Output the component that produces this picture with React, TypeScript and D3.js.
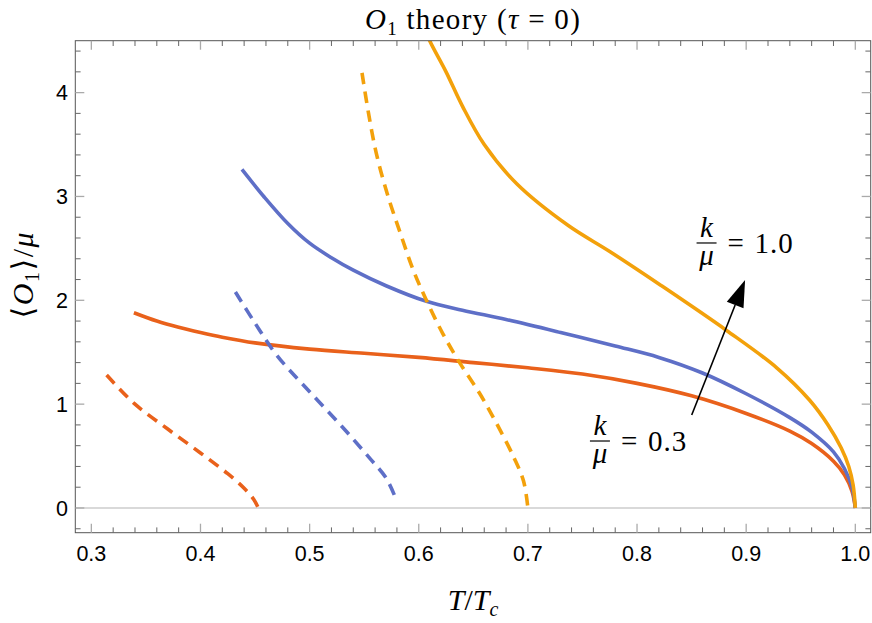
import React from "react";
import * as d3 from "d3";

const W = 872;
const H = 623;

// Data: [T/Tc, <O1>/mu]
const redSolid: [number, number][] = [
  [0.339, 1.88], [0.36, 1.80], [0.38, 1.74], [0.40, 1.69], [0.42, 1.645], [0.45, 1.59],
  [0.50, 1.53], [0.55, 1.49], [0.60, 1.45], [0.65, 1.40], [0.70, 1.35], [0.75, 1.29],
  [0.80, 1.20], [0.85, 1.08], [0.90, 0.91], [0.94, 0.74], [0.96, 0.62], [0.98, 0.45],
  [0.99, 0.32], [0.997, 0.16], [1.0, 0.0],
];

const blueSolid: [number, number][] = [
  [0.438, 3.26], [0.458, 3.0], [0.48, 2.74], [0.50, 2.55], [0.52, 2.41], [0.54, 2.29],
  [0.57, 2.14], [0.607, 1.99], [0.64, 1.905], [0.68, 1.815], [0.73, 1.69], [0.78, 1.56],
  [0.82, 1.45], [0.86, 1.30], [0.90, 1.10], [0.94, 0.87], [0.96, 0.73], [0.98, 0.54],
  [0.99, 0.38], [0.997, 0.20], [1.0, 0.0],
];

const orangeSolid: [number, number][] = [
  [0.602, 4.7], [0.61, 4.5], [0.625, 4.2], [0.64, 3.87], [0.66, 3.5], [0.69, 3.12],
  [0.737, 2.72], [0.775, 2.47], [0.821, 2.15], [0.882, 1.71], [0.928, 1.35], [0.958, 1.04],
  [0.975, 0.80], [0.987, 0.58], [0.994, 0.40], [0.998, 0.22], [1.0, 0.0],
];

const redDashed: [number, number][] = [
  [0.314, 1.28], [0.34, 1.00], [0.37, 0.76], [0.40, 0.53], [0.425, 0.33], [0.44, 0.19],
  [0.449, 0.08], [0.453, 0.0],
];

const blueDashed: [number, number][] = [
  [0.432, 2.08], [0.45, 1.78], [0.47, 1.47], [0.50, 1.12], [0.53, 0.78], [0.555, 0.48],
  [0.57, 0.29], [0.579, 0.09],
];

const orangeDashed: [number, number][] = [
  [0.548, 4.19], [0.554, 3.8], [0.561, 3.42], [0.571, 3.03], [0.583, 2.65], [0.595, 2.29],
  [0.607, 2.0], [0.622, 1.68], [0.638, 1.39], [0.656, 1.10], [0.671, 0.82], [0.687, 0.49],
  [0.696, 0.26], [0.7, 0.0],
];

const xMajor = [0.3, 0.4, 0.5, 0.6, 0.7, 0.8, 0.9, 1.0];
const xMajorLabels = ["0.3", "0.4", "0.5", "0.6", "0.7", "0.8", "0.9", "1.0"];
const yMajor = [0, 1, 2, 3, 4];
const yMajorLabels = ["0", "1", "2", "3", "4"];

const RED = "#E9611B";
const BLUE = "#5E6FC7";
const ORANGE = "#F3A10B";

const series = [
  { data: redSolid, color: RED, dashed: false },
  { data: blueSolid, color: BLUE, dashed: false },
  { data: orangeSolid, color: ORANGE, dashed: false },
  { data: redDashed, color: RED, dashed: true },
  { data: blueDashed, color: BLUE, dashed: true },
  { data: orangeDashed, color: ORANGE, dashed: true },
];

// arrow in data coords
const arrowFrom: [number, number] = [0.8501, 0.896];
const arrowTo: [number, number] = [0.899, 2.196];

export default function App() {
  const left = 75.3, right = 870.7, top = 40.7, bottom = 532.7;
  const x = d3.scaleLinear().domain([0.2853, 1.0141]).range([left, right]);
  const y = d3.scaleLinear().domain([-0.238, 4.5]).range([bottom, top]);

  const line = d3
    .line<[number, number]>()
    .x((d) => x(d[0]))
    .y((d) => y(d[1]))
    .curve(d3.curveCatmullRom.alpha(0.5));

  const xMinor = d3.range(0.3, 1.0001, 0.02).filter((v) => Math.abs(Math.round(v * 10) - v * 10) > 1e-6);
  const yMinor = d3.range(-0.2, 4.5, 0.2).filter((v) => Math.abs(Math.round(v) - v) > 1e-6);

  const majLen = 9, minLen = 5.3;
  const majColor = "#aaaaaa", minColor = "#666666";

  // arrow geometry
  const ax1 = x(arrowFrom[0]), ay1 = y(arrowFrom[1]);
  const ax2 = x(arrowTo[0]), ay2 = y(arrowTo[1]);
  const ang = Math.atan2(ay2 - ay1, ax2 - ax1);
  const headL = 27, headW = 9;
  const bx = ax2 - headL * Math.cos(ang), by = ay2 - headL * Math.sin(ang);
  const px = -Math.sin(ang) * headW, py = Math.cos(ang) * headW;

  const serif = "'Liberation Serif', 'DejaVu Serif', serif";
  const sans = "'Liberation Sans', Arial, sans-serif";

  const frac = (cx: number, barY: number, val: string) => (
    <g fontFamily={serif} fontSize={29}>
      <text x={cx} y={barY - 6} textAnchor="middle" fontStyle="italic">k</text>
      <line x1={cx - 10} x2={cx + 10} y1={barY} y2={barY} stroke="#000" strokeWidth={1.2} />
      <text x={cx} y={barY + 22} textAnchor="middle" fontStyle="italic">μ</text>
      <text x={cx + 21} y={barY + 10} letterSpacing={1}>=</text>
      <text x={cx + 48} y={barY + 10} letterSpacing={1}>{val}</text>
    </g>
  );

  return (
    <svg width={W} height={H} style={{ position: "absolute", left: 0, top: 0, background: "#fff" }}>
      <defs>
        <clipPath id="plotclip">
          <rect x={left} y={top} width={right - left} height={bottom - top} />
        </clipPath>
      </defs>
      <rect x={0} y={0} width={W} height={H} fill="#fff" />
      {/* zero line */}
      <line x1={left} x2={right} y1={y(0)} y2={y(0)} stroke="#cccccc" strokeWidth={1.3} />

      {/* curves */}
      <g clipPath="url(#plotclip)">
        {series.map((s, i) => (
          <path
            key={i}
            d={line(s.data) || ""}
            fill="none"
            stroke={s.color}
            strokeWidth={3.6}
            strokeDasharray={s.dashed ? "11.5,7.5" : undefined}
            strokeLinejoin="round"
          />
        ))}
      </g>

      {/* frame */}
      <rect x={left} y={top} width={right - left} height={bottom - top} fill="none" stroke="#555" strokeWidth={1} />

      {/* x ticks */}
      {xMinor.map((v, i) => (
        <g key={"xm" + i} stroke={minColor} strokeWidth={1}>
          <line x1={x(v)} x2={x(v)} y1={bottom} y2={bottom - minLen} />
          <line x1={x(v)} x2={x(v)} y1={top} y2={top + minLen} />
        </g>
      ))}
      {xMajor.map((v, i) => (
        <g key={"xM" + i} stroke={majColor} strokeWidth={1.3}>
          <line x1={x(v)} x2={x(v)} y1={bottom} y2={bottom - majLen} />
          <line x1={x(v)} x2={x(v)} y1={top} y2={top + majLen} />
        </g>
      ))}
      {/* y ticks */}
      {yMinor.map((v, i) => (
        <g key={"ym" + i} stroke={minColor} strokeWidth={1}>
          <line x1={left} x2={left + minLen} y1={y(v)} y2={y(v)} />
          <line x1={right} x2={right - minLen} y1={y(v)} y2={y(v)} />
        </g>
      ))}
      {yMajor.map((v, i) => (
        <g key={"yM" + i} stroke={majColor} strokeWidth={1.3}>
          <line x1={left} x2={left + majLen} y1={y(v)} y2={y(v)} />
          <line x1={right} x2={right - majLen} y1={y(v)} y2={y(v)} />
        </g>
      ))}

      {/* tick labels */}
      <g fontFamily={sans} fontSize={21.5} fill="#000">
        {xMajor.map((v, i) => (
          <text key={"xl" + i} x={x(v)} y={560.7} textAnchor="middle">{xMajorLabels[i]}</text>
        ))}
        {yMajor.map((v, i) => (
          <text key={"yl" + i} x={68} y={y(v) + 7.7} textAnchor="end">{yMajorLabels[i]}</text>
        ))}
      </g>

      {/* title */}
      <text x={(left + right) / 2} y={29} textAnchor="middle" fontFamily={serif} fontSize={29} letterSpacing={1.3}>
        <tspan fontStyle="italic">O</tspan>
        <tspan fontSize={19} dy={6}>1</tspan>
        <tspan dy={-6}> theory (</tspan>
        <tspan fontStyle="italic">τ</tspan>
        <tspan> = 0)</tspan>
      </text>

      {/* x label */}
      <text x={(left + right) / 2} y={610} textAnchor="middle" fontFamily={serif} fontSize={30}>
        <tspan fontStyle="italic">T</tspan>
        <tspan>/</tspan>
        <tspan fontStyle="italic">T</tspan>
        <tspan fontStyle="italic" fontSize={20} dy={6}>c</tspan>
      </text>

      {/* y label */}
      <text
        transform={`translate(33, ${(top + bottom) / 2 - 12}) rotate(-90)`}
        textAnchor="middle"
        fontFamily={serif}
        fontSize={30}
        letterSpacing={1.5}
      >
        <tspan>⟨</tspan>
        <tspan fontStyle="italic">O</tspan>
        <tspan fontSize={20} dy={6}>1</tspan>
        <tspan dy={-6}>⟩/</tspan>
        <tspan fontStyle="italic">μ</tspan>
      </text>

      {/* arrow */}
      <line x1={ax1} y1={ay1} x2={bx} y2={by} stroke="#000" strokeWidth={1.6} />
      <polygon
        points={`${ax2},${ay2} ${bx + px},${by + py} ${bx - px},${by - py}`}
        fill="#000"
      />

      {frac(x(0.8637), y(2.552), "1.0")}
      {frac(x(0.766), y(0.645), "0.3")}
    </svg>
  );
}
